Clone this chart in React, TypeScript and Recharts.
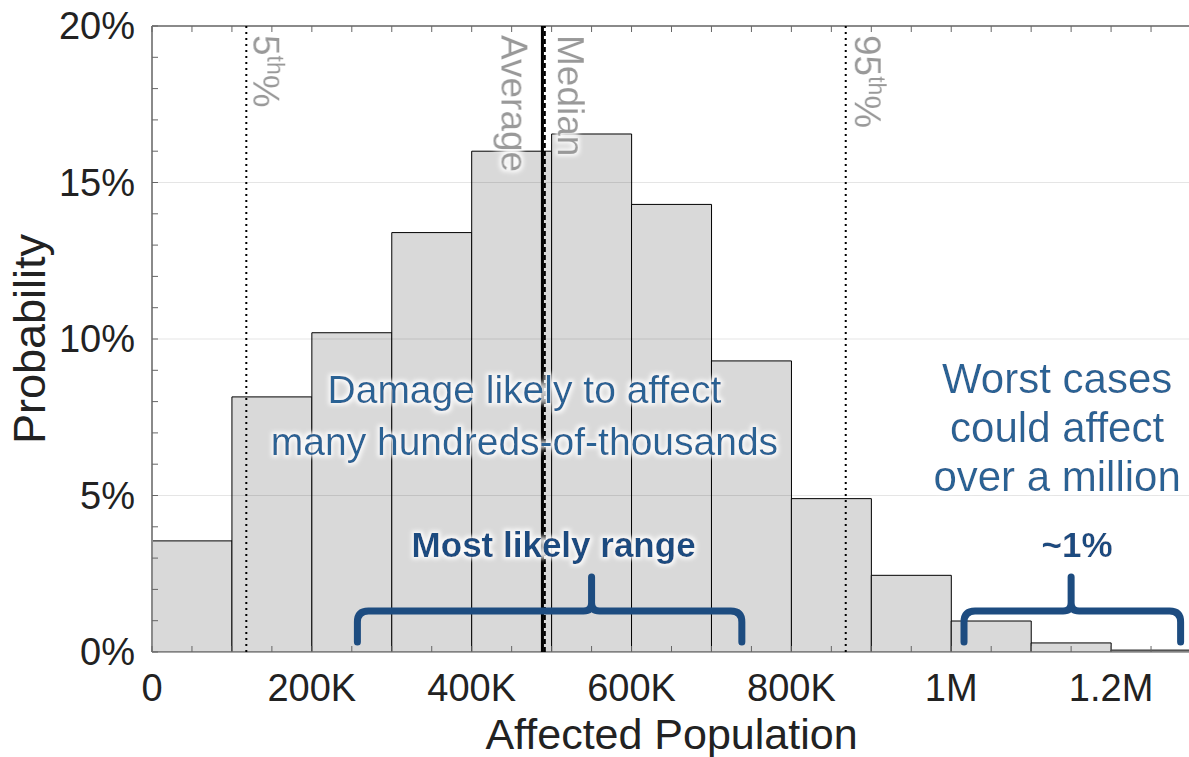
import React from "react";
import {
  ComposedChart, Bar, XAxis, YAxis, ReferenceLine, ReferenceArea, ReferenceDot,
} from "recharts";

const FONT = '"Liberation Sans", Arial, Helvetica, sans-serif';

// histogram: 100K-wide bins of affected population (bin centres), probability in %
const binMid = [50000, 150000, 250000, 350000, 450000, 550000, 650000, 750000, 850000, 950000, 1050000, 1150000, 1250000];
const probability = [3.55, 8.15, 10.2, 13.4, 16.0, 16.55, 14.3, 9.3, 4.9, 2.45, 0.99, 0.29, 0.06];

const xTicks = [
  0, 50000, 100000, 150000, 200000, 250000, 300000, 350000, 400000, 450000, 500000, 550000, 600000,
  650000, 700000, 750000, 800000, 850000, 900000, 950000, 1000000, 1050000, 1100000, 1150000, 1200000,
  1250000, 1300000,
];
const xLabelled = [0, 200000, 400000, 600000, 800000, 1000000, 1200000];
const xTickText = ["0", "200K", "400K", "600K", "800K", "1M", "1.2M"];

const yTicks = [0, 1, 2, 3, 4, 5, 6, 7, 8, 9, 10, 11, 12, 13, 14, 15, 16, 17, 18, 19, 20];
const yLabelled = [0, 5, 10, 15, 20];
const yTickText = ["0%", "5%", "10%", "15%", "20%"];
const gridLevels = [5, 10, 15];

// distribution statistics
const markerNames = ["5th", "Average", "Median", "95th"];
const markerValues = [118000, 488500, 491500, 868000];

// brackets under the histogram
const rangeLabels = ["Most likely range", "~1%"];
const rangeFrom = [257000, 1016000];
const rangeTo = [738000, 1287000];
const rangePeak = [550000, 1150000];
const rangeLabelX = [502500, 1157500];

// free-floating notes
const noteLines = [
  ["Damage likely to affect", "many hundreds-of-thousands"],
  ["Worst cases", "could affect", "over a million"],
];
const noteX = [466000, 1132500];
const noteY = [7.95, 8.27];

const data = binMid.map((m, i) => ({ mid: m, p: probability[i] }));

const X_DOMAIN = [0, 1300000];
const BRACE_BASE = 0.32;
const BRACE_ARM = 1.31;
const BRACE_TIP = 2.4;
const RANGE_LABEL_Y = 3.03;

const TICK = "#666";
const FRAME = "#8a8a8a";
const NOTE_BLUE = "#2c6294";
const DARK_BLUE = "#1d4c80";

function XTick({ x, y, payload, top }: any) {
  const i = xLabelled.indexOf(payload.value);
  return (
    <g>
      <line x1={x} x2={x} y1={y} y2={top ? y + 6 : y - 6} stroke={TICK} strokeWidth={1} />
      {!top && i >= 0 && (
        <text x={x} y={y + 49} textAnchor="middle" fontSize={38} fontFamily={FONT} fill="#222">
          {xTickText[i]}
        </text>
      )}
    </g>
  );
}

function YTick({ x, y, payload, right }: any) {
  const i = yLabelled.indexOf(payload.value);
  return (
    <g>
      <line x1={x} x2={right ? x - 6 : x + 6} y1={y} y2={y} stroke={TICK} strokeWidth={1} />
      {!right && i >= 0 && (
        <text x={x - 17} y={y + 13} textAnchor="end" fontSize={38} fontFamily={FONT} fill="#222">
          {yTickText[i]}
        </text>
      )}
    </g>
  );
}

// rotated caption next to a statistic line, reading top to bottom
function MarkerLabel({ viewBox, name, dx }: any) {
  const bx = viewBox.x + dx;
  const pct = name.endsWith("th");
  return (
    <text transform={`translate(${bx},35) rotate(90)`} fill="#999" fontSize={37}
      fontFamily={FONT} filter="url(#halo)">
      {pct ? (
        <>
          <tspan>{name.replace("th", "")}</tspan>
          <tspan fontSize={23} dy={-14}>th</tspan>
          <tspan dy={14}>%</tspan>
        </>
      ) : name}
    </text>
  );
}

function Brace({ x, y, width, height, peakFrac }: any) {
  const x0 = x;
  const x1 = x + width;
  const top = y;
  const bot = y + height;
  const bar = top + height * ((BRACE_TIP - BRACE_ARM) / (BRACE_TIP - BRACE_BASE));
  const px = x0 + width * peakFrac;
  const r = 11;
  const c = 8;
  const d =
    `M${x0},${bot} L${x0},${bar + r} Q${x0},${bar} ${x0 + r},${bar} ` +
    `L${px - c},${bar} Q${px},${bar} ${px},${bar - c} L${px},${top} ` +
    `M${px},${bar - c} Q${px},${bar} ${px + c},${bar} ` +
    `L${x1 - r},${bar} Q${x1},${bar} ${x1},${bar + r} L${x1},${bot}`;
  return <path d={d} fill="none" stroke={DARK_BLUE} strokeWidth={7} strokeLinejoin="round" strokeLinecap="round" />;
}

function noteShape(lines: string[], size: number, gap: number, weight: string, color: string) {
  return (p: any) => (
    <text x={p.cx} y={p.cy} textAnchor="middle" fontSize={size} fontWeight={weight}
      fontFamily={FONT} fill={color} filter="url(#halo)">
      {lines.map((t, i) => (
        <tspan key={i} x={p.cx} dy={i === 0 ? 0 : gap}>{t}</tspan>
      ))}
    </text>
  );
}

export default function App() {
  return (
    <div style={{ position: "absolute", left: 0, top: 0, width: 1189, height: 757, overflow: "hidden", background: "#fff" }}>
      <ComposedChart width={1191} height={757} data={data} barCategoryGap={0} barGap={0}
        margin={{ top: 25, right: 0, bottom: 0, left: 0 }}>
        <defs>
          <filter id="halo" x="-20%" y="-40%" width="140%" height="180%">
            <feMorphology in="SourceAlpha" operator="dilate" radius={2} result="grow" />
            <feGaussianBlur in="grow" stdDeviation={2.2} result="soft" />
            <feFlood floodColor="#ffffff" floodOpacity={0.9} />
            <feComposite in2="soft" operator="in" result="glow" />
            <feMerge>
              <feMergeNode in="glow" />
              <feMergeNode in="SourceGraphic" />
            </feMerge>
          </filter>
        </defs>

        <XAxis xAxisId="num" dataKey="mid" type="number" domain={X_DOMAIN} allowDataOverflow ticks={xTicks}
          interval={0} height={105} tickSize={0} tickMargin={0} tickLine={false}
          axisLine={{ stroke: FRAME, strokeWidth: 1.5 }}
          tick={(p: any) => <XTick {...p} />}
          label={{
            content: ({ viewBox }: any) => (
              <text x={viewBox.x + viewBox.width / 2} y={viewBox.y + 97} textAnchor="middle"
                fontSize={43} fontFamily={FONT} fill="#222">Affected Population</text>
            ),
          }} />
        <XAxis xAxisId="top" dataKey="mid" orientation="top" type="number" domain={X_DOMAIN} allowDataOverflow
          ticks={xTicks} interval={0} height={1} tickSize={0} tickMargin={0} tickLine={false}
          axisLine={{ stroke: FRAME, strokeWidth: 2 }}
          tick={(p: any) => <XTick {...p} top />} />
        <YAxis yAxisId="p" dataKey="p" type="number" domain={[0, 20]} allowDataOverflow ticks={yTicks} interval={0}
          width={152} tickSize={0} tickMargin={0} tickLine={false}
          axisLine={{ stroke: FRAME, strokeWidth: 2 }}
          tick={(p: any) => <YTick {...p} />}
          label={{
            content: ({ viewBox }: any) => {
              const cy = viewBox.y + viewBox.height / 2;
              return (
                <text transform={`translate(${viewBox.x + 45},${cy}) rotate(-90)`} textAnchor="middle"
                  fontSize={45} fontFamily={FONT} fill="#222">Probability</text>
              );
            },
          }} />
        <YAxis yAxisId="r" dataKey="p" orientation="right" type="number" domain={[0, 20]} allowDataOverflow
          ticks={yTicks} interval={0} width={0} tickSize={0} tickMargin={0} tickLine={false}
          axisLine={{ stroke: FRAME, strokeWidth: 2 }}
          tick={(p: any) => <YTick {...p} right />} />

        <Bar xAxisId="num" yAxisId="p" dataKey="p" fill="#d9d9d9" stroke="#000" strokeWidth={1}
          isAnimationActive={false} />

        {gridLevels.map((v) => (
          <ReferenceLine key={`g${v}`} xAxisId="num" yAxisId="p" y={v} stroke="#000"
            strokeOpacity={0.1} strokeWidth={1} zIndex={350} />
        ))}
        {/* top edge of the frame */}
        <ReferenceLine xAxisId="num" yAxisId="p" y={20} stroke={FRAME} strokeWidth={2} zIndex={350} />

        {markerNames.map((name, i) => {
          const solid = name === "Average";
          const dashed = name === "Median";
          return (
            <ReferenceLine key={name} xAxisId="num" yAxisId="p" x={markerValues[i]} zIndex={1200}
              stroke="#000" strokeWidth={solid ? 3 : 2}
              strokeDasharray={solid ? undefined : dashed ? "5 3" : "2 4"}
              label={<MarkerLabel name={name} dx={name === "Average" ? -41 : name === "Median" ? 13 : name === "5th" ? 7 : 9} />} />
          );
        })}

        {noteLines.map((lines, i) => (
          <ReferenceDot key={`n${i}`} xAxisId="num" yAxisId="p" x={noteX[i]} y={noteY[i]} r={0}
            ifOverflow="visible" zIndex={1500}
            shape={noteShape(lines, i === 0 ? 39 : 42, i === 0 ? 52 : 49, "normal", NOTE_BLUE)} />
        ))}

        {rangeLabels.map((label, i) => (
          <ReferenceArea key={`b${i}`} xAxisId="num" yAxisId="p" x1={rangeFrom[i]} x2={rangeTo[i]}
            y1={BRACE_BASE} y2={BRACE_TIP} ifOverflow="visible" zIndex={1500}
            shape={(p: any) => (
              <Brace {...p} peakFrac={(rangePeak[i] - rangeFrom[i]) / (rangeTo[i] - rangeFrom[i])} />
            )} />
        ))}
        {rangeLabels.map((label, i) => (
          <ReferenceDot key={`l${i}`} xAxisId="num" yAxisId="p" x={rangeLabelX[i]} y={RANGE_LABEL_Y} r={0}
            ifOverflow="visible" zIndex={1500}
            shape={noteShape([label], 35, 0, "bold", DARK_BLUE)} />
        ))}
      </ComposedChart>
    </div>
  );
}
